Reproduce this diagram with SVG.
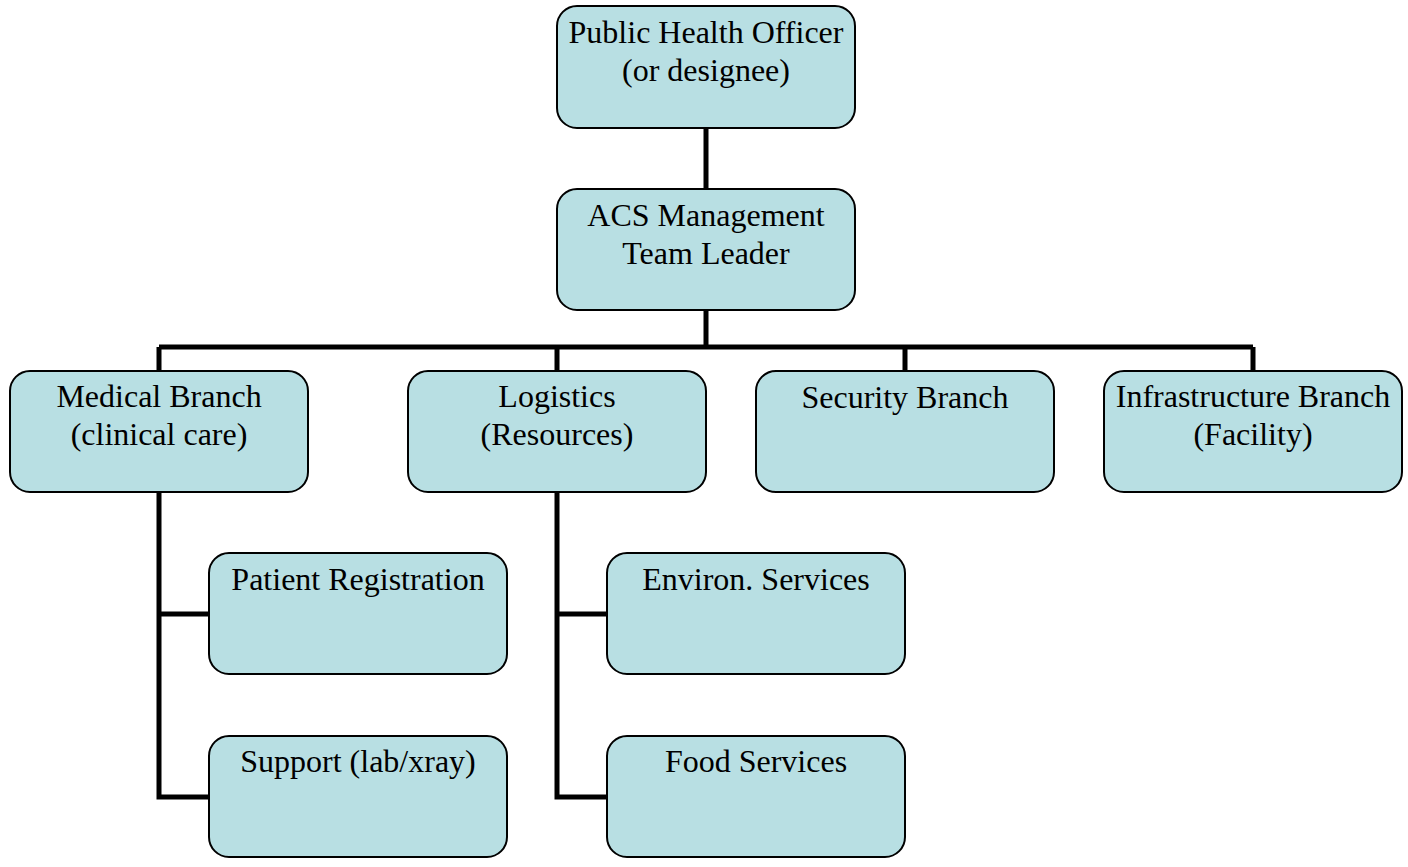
<svg xmlns="http://www.w3.org/2000/svg" width="1408" height="867" viewBox="0 0 1408 867">
<style>
.box{fill:#b8dfe3;stroke:#000;stroke-width:2}
.lbl{font-family:"Liberation Serif","Times New Roman",serif;font-size:32px;fill:#000;text-anchor:middle}
.conn{fill:none;stroke:#000;stroke-width:5;stroke-linecap:butt;stroke-linejoin:miter}
</style>
<rect width="1408" height="867" fill="#fff"/>
<g id="connectors">
<path class="conn" d="M706 128V189M706 310V347M159 347H1253M159 347V371M557 347V371M905 347V371M1253 347V371"/>
<path class="conn" d="M159 492V797H209M159 614H209"/>
<path class="conn" d="M557 492V797H607M557 614H607"/>
</g>
<g id="n1"><rect class="box" x="557" y="6" width="298" height="122" rx="20"/><text class="lbl" x="706" y="43">Public Health Officer</text><text class="lbl" x="706" y="81">(or designee)</text></g>
<g id="n2"><rect class="box" x="557" y="189" width="298" height="121" rx="20"/><text class="lbl" x="706" y="226">ACS Management</text><text class="lbl" x="706" y="264">Team Leader</text></g>
<g id="n3"><rect class="box" x="10" y="371" width="298" height="121" rx="20"/><text class="lbl" x="159" y="407">Medical Branch</text><text class="lbl" x="159" y="445">(clinical care)</text></g>
<g id="n4"><rect class="box" x="408" y="371" width="298" height="121" rx="20"/><text class="lbl" x="557" y="407">Logistics</text><text class="lbl" x="557" y="445">(Resources)</text></g>
<g id="n5"><rect class="box" x="756" y="371" width="298" height="121" rx="20"/><text class="lbl" x="905" y="408">Security Branch</text></g>
<g id="n6"><rect class="box" x="1104" y="371" width="298" height="121" rx="20"/><text class="lbl" x="1253" y="407">Infrastructure Branch</text><text class="lbl" x="1253" y="445">(Facility)</text></g>
<g id="n7"><rect class="box" x="209" y="553" width="298" height="121" rx="20"/><text class="lbl" x="358" y="590">Patient Registration</text></g>
<g id="n8"><rect class="box" x="607" y="553" width="298" height="121" rx="20"/><text class="lbl" x="756" y="590">Environ. Services</text></g>
<g id="n9"><rect class="box" x="209" y="736" width="298" height="121" rx="20"/><text class="lbl" x="358" y="772">Support (lab/xray)</text></g>
<g id="n10"><rect class="box" x="607" y="736" width="298" height="121" rx="20"/><text class="lbl" x="756" y="772">Food Services</text></g>
</svg>
